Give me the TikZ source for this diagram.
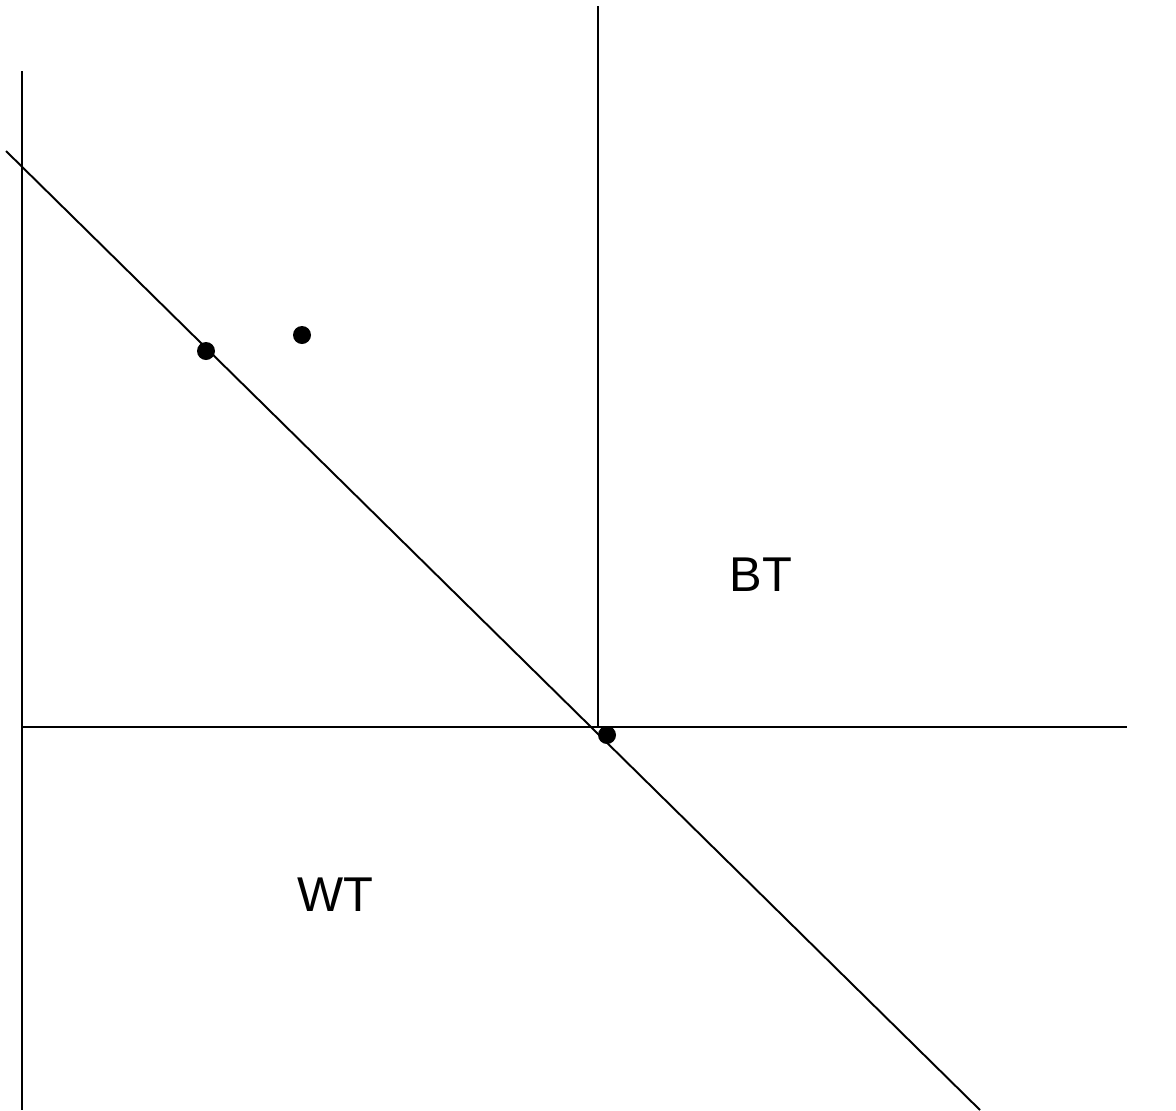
\documentclass[tikz,border=0pt]{standalone}
\usepackage{fontspec}
\setmainfont{Liberation Sans}
\begin{document}
\begin{tikzpicture}[x=0.02cm, y=-0.02cm, line width=1.1pt,
    dot/.style={circle, fill=black, inner sep=0pt, minimum size=0.36cm},
    region/.style={font=\fontsize{27.8}{33}\selectfont}]
    \useasboundingbox (0,0) rectangle (1176,1110);

    % Axes and boundaries
    \coordinate (leftTop) at (22,71);
    \coordinate (leftBot) at (22,1110);
    \coordinate (midTop) at (598,6);
    \coordinate (midBot) at (598,727);
    \coordinate (horLeft) at (22,727);
    \coordinate (horRight) at (1127,727);
    \coordinate (diagTop) at (6,151);
    \coordinate (diagBot) at (980,1110);

    \draw (leftTop) -- (leftBot);
    \draw (midTop) -- (midBot);
    \draw (horLeft) -- (horRight);
    \draw (diagTop) -- (diagBot);

    % Points
    \node[dot] (p1) at (206,351) {};
    \node[dot] (p2) at (302,335) {};
    \node[dot] (p3) at (607,735) {};

    % Region labels
    \node[region] (bt) at (761,575) {BT};
    \node[region] (wt) at (335,895) {WT};
\end{tikzpicture}
\end{document}
